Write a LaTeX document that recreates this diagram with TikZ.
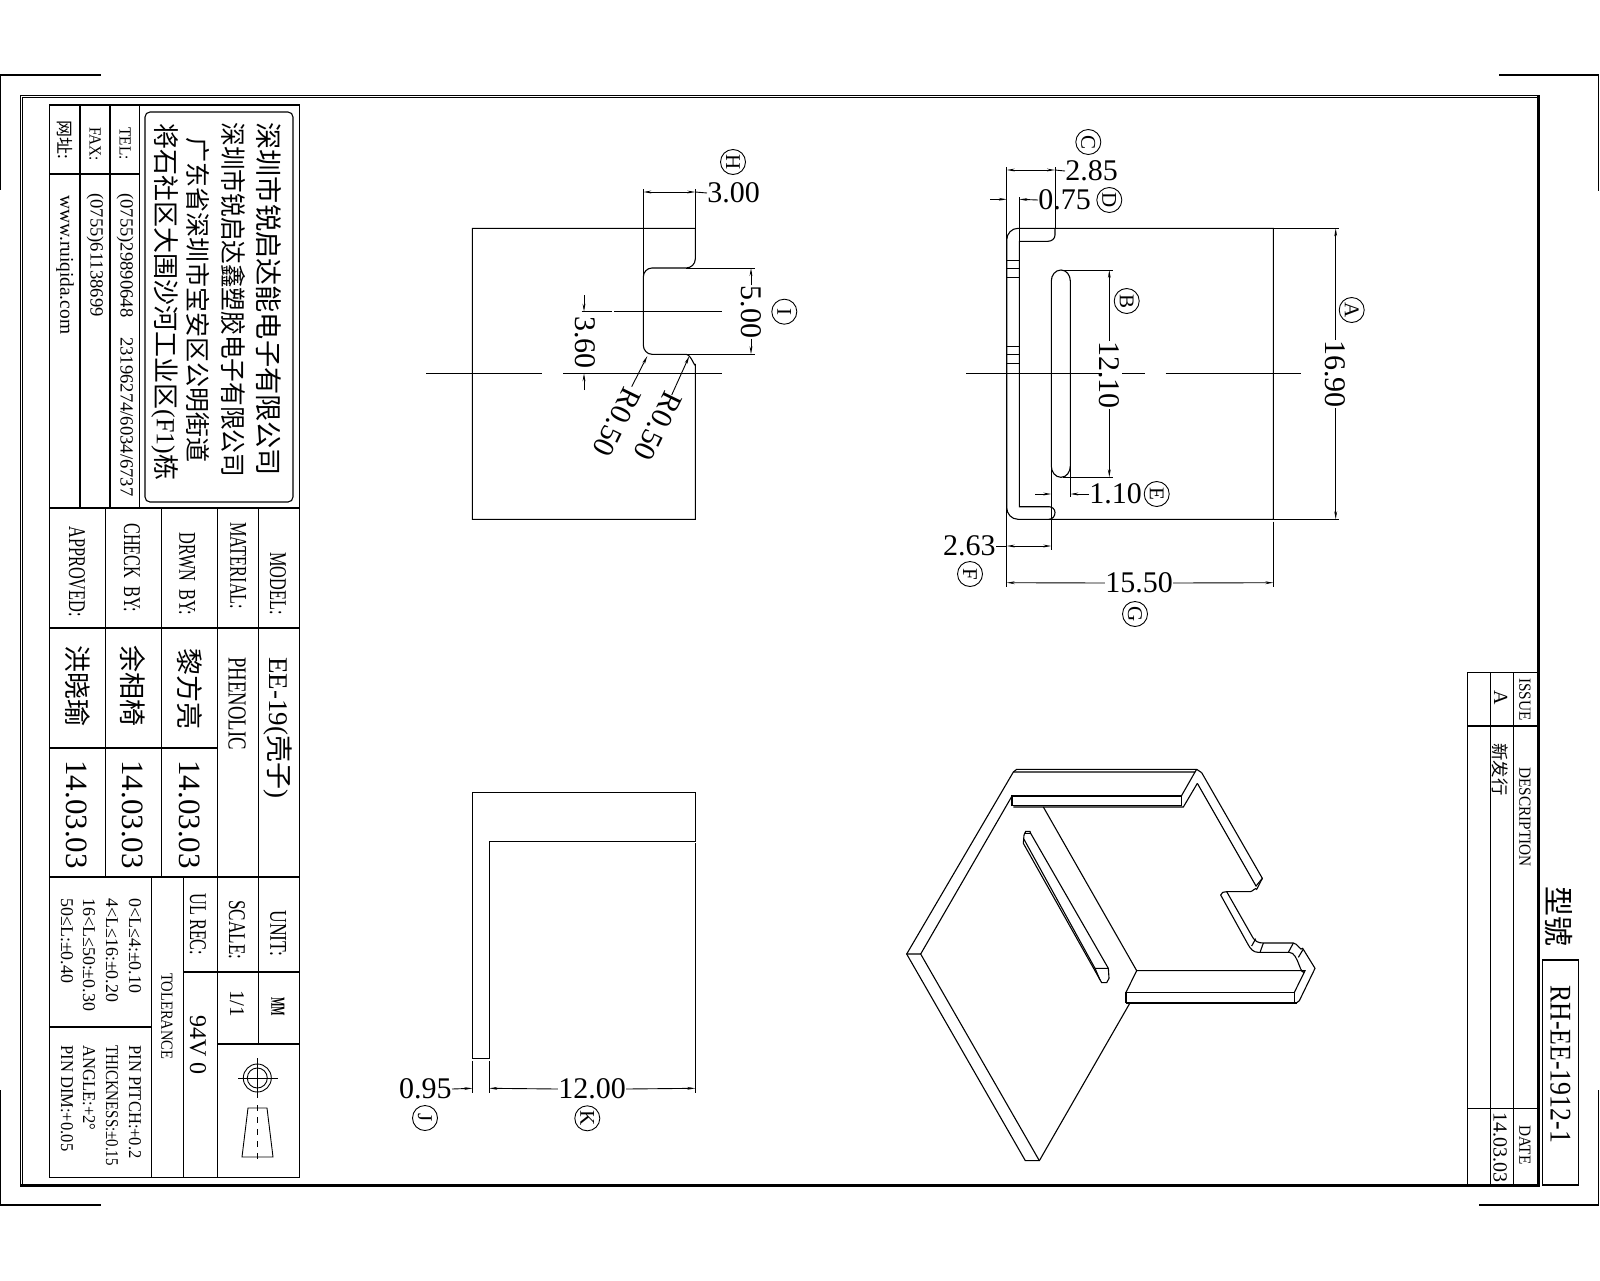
\documentclass[tikz,border=0pt]{standalone}
\usepackage{fontspec}
\setmainfont{Liberation Serif}
\newfontfamily\cjk{Noto Sans CJK SC}
\usetikzlibrary{arrows.meta}
\newcommand{\fs}[1]{\fontsize{#1}{#1}\selectfont}
\tikzset{
  part/.style={line width=.55pt},
  thinln/.style={line width=.45pt},
  tick/.tip={Stealth[length=4pt,width=1.4pt]},
  dimln/.style={line width=.45pt},
  dimtxt/.style={font=\fs{15}, inner sep=0pt},
  dimtxtv/.style={dimtxt, rotate=-90},
  balloon/.style={draw, circle, line width=.45pt, minimum size=12.5pt, inner sep=0pt, rotate=-90, font=\fs{10.5}},
  ttl/.style={rotate=-90, anchor=west, inner sep=0pt},
  lab/.style={ttl, xscale=.68, font=\fs{12}},
  tiny/.style={ttl, xscale=.9, font=\fs{8.5}},
  tol/.style={ttl, xscale=.92, font=\fs{9}},
  date/.style={ttl, font=\fs{15.5}},
  zh/.style={ttl, font=\cjk\fs{13.5}},
}
\begin{document}
\begin{tikzpicture}[x=.5pt,y=-.5pt]
  \useasboundingbox (0,0) rectangle (1600,1280);

  % Crop marks
  \draw[part] (0,190) -- (0,75) -- (101,75);
  \draw[part] (1499,75) -- (1598.5,75) -- (1598.5,191);
  \draw[part] (0,1090) -- (0,1205) -- (101,1205);
  \draw[part] (1479,1205) -- (1598.5,1205) -- (1598.5,1090);

  % Sheet frame
  \draw[thinln] (20,95) rectangle (1539.5,1186);
  \draw[thinln] (22.5,97) rectangle (1537,1184);
  \draw[line width=1.3pt] (1538.3,96) -- (1538.3,1185.5) -- (21,1185.5);

  % Title block, grid
  \draw[part] (49.3,105) rectangle (299.3,1177.3);
  \foreach \x in {80,110,139.3} \draw[part] (\x,105) -- (\x,508);
  \draw[part] (49.3,174) -- (139.3,174);
  \draw[part] (49.3,508) -- (299.3,508);
  \draw[part] (49.3,628) -- (299.3,628);
  \draw[part] (49.3,748) -- (217.3,748);
  \draw[part] (49.3,877) -- (299.3,877);
  \foreach \x in {105.3,161.3} \draw[part] (\x,508) -- (\x,877);
  \foreach \x in {217.3} \draw[part] (\x,508) -- (\x,1177.3);
  \draw[part] (258.7,508) -- (258.7,1044);
  \foreach \x in {151.3,183.3} \draw[part] (\x,877) -- (\x,1177.3);
  \draw[part] (183.3,972) -- (299.3,972);
  \draw[part] (217.3,1044) -- (299.3,1044);
  \draw[part] (49.3,1027) -- (151.3,1027);
  \draw[part, rounded corners=2.5pt] (145,112) rectangle (293,502);

  % Company address
  \node[zh, font=\cjk\fs{13.6}] (co1) at (269,122) {深圳市锐启达能电子有限公司};
  \node[zh, font=\cjk\fs{13}, xscale=.91] (co2) at (233,122) {深圳市锐启达鑫塑胶电子有限公司};
  \node[zh, font=\cjk\fs{12.5}] (co3) at (198,137) {广东省深圳市宝安区公明街道};
  \node[zh, font=\fs{13}] (co4) at (165,123) {{\cjk 将石社区大围沙河工业区}(F1){\cjk 栋}};
  \node[tiny] (tel) at (125,127) {TEL:};
  \node[ttl, font=\fs{9.3}] (telv) at (125,193) {(0755)29890648\hspace{10pt}23196274/6034/6737};
  \node[tiny] (fax) at (95,127) {FAX:};
  \node[ttl, font=\fs{9.3}] (faxv) at (95,193) {(0755)61138699};
  \node[ttl, font=\cjk\fs{8.5}] (web) at (65,120) {网址:};
  \node[ttl, font=\fs{9.7}] (webv) at (65,195) {www.ruiqida.com};

  % Title block, labels and values
  \node[lab] (model) at (278,552) {MODEL:};
  \node[lab] (material) at (238,522) {MATERIAL:};
  \node[lab] (drwn) at (187,532) {DRWN\ \ BY:};
  \node[lab] (chk) at (132,523) {CHECK\ \ BY:};
  \node[lab] (appr) at (77,526) {APPROVED:};
  \node[ttl, font=\fs{13.5}] (modelv) at (278,657) {EE-19({\cjk 壳子})};
  \node[ttl, xscale=.72, font=\fs{13}] (matv) at (237,657) {PHENOLIC};
  \node[zh] (drwnv) at (190,648) {黎方亮};
  \node[zh] (chkv) at (133,645) {余相椅};
  \node[zh] (apprv) at (78,645) {洪晓瑜};
  \node[date] (d1) at (190,760) {14.03.03};
  \node[date] (d2) at (133,760) {14.03.03};
  \node[date] (d3) at (77,760) {14.03.03};

  \node[lab, xscale=1.08] (unit) at (278,910) {UNIT:};
  \node[lab, xscale=1.05] (scale) at (237,900) {SCALE:};
  \node[lab] (ulrec) at (198,893) {UL\ REC:};
  \node[ttl, xscale=.5, font=\fs{10}\bfseries] (unitv) at (278,997) {MM};
  \node[ttl, font=\fs{10.5}] (scalev) at (237,990) {1/1};
  \node[ttl, font=\fs{12}] (ulv) at (198,1015) {94V\ 0};
  \node[tiny, xscale=.95] (tolt) at (167,973) {TOLERANCE};
  \node[tol, xscale=1.08] (t1) at (135,898) {0<L≤4:±0.10};
  \node[tol, xscale=1.08] (t2) at (112,898) {4<L≤16:±0.20};
  \node[tol, xscale=1.08] (t3) at (89,898) {16<L≤50:±0.30};
  \node[tol, xscale=1.08] (t4) at (67,898) {50≤L:±0.40};
  \node[tol] (p1) at (135,1045) {PIN PITCH:+0.2};
  \node[tol, xscale=.9] (p2) at (112,1045) {THICKNESS:±0.15};
  \node[tol] (p3) at (89,1045) {ANGLE:+2°};
  \node[tol] (p4) at (67,1045) {PIN DIM:+0.05};

  % Projection symbol
  \draw[thinln] (257.3,1078) circle (14) (257.3,1078) circle (10);
  \draw[thinln] (238,1078) -- (278,1078) (257.3,1058) -- (257.3,1098);
  \draw[thinln] (248,1108) -- (267,1108) -- (273,1157) -- (242,1157) -- cycle;
  \draw[thinln, dashed] (257.3,1105) -- (257.3,1162);

  % Revision table
  \draw[part] (1467.3,672.3) -- (1538,672.3);
  \draw[part] (1467.3,726) -- (1538,726);
  \draw[part] (1467.3,1108.3) -- (1538,1108.3);
  \foreach \x in {1467.3,1490.3,1513.3} \draw[part] (\x,672.3) -- (\x,1185);
  \node[tiny] (issue) at (1525,678) {ISSUE};
  \node[tiny] (descr) at (1525,767) {DESCRIPTION};
  \node[tiny] (datet) at (1525,1125) {DATE};
  \node[ttl, font=\fs{10}, anchor=center] (reva) at (1500.7,698) {A};
  \node[ttl, font=\cjk\fs{8.7}] (revd) at (1500,743) {新发行};
  \node[ttl, font=\fs{10}] (revdt) at (1500,1112) {14.03.03};

  % Model number
  \node[ttl, font=\cjk\fs{15}] (modelzh) at (1559,886) {型號};
  \draw[part] (1542.3,960) rectangle (1578.7,1185);
  \node[ttl, xscale=.86, font=\fs{15}] (modelno) at (1560.5,985) {RH-EE-1912-1};

  % Top left view
  \draw[part] (472.3,228.3) -- (695.3,228.3) -- (695.3,259) to[out=-90,in=0] (686,268)
    -- (652,268) to[out=180,in=90] (643.3,277) -- (643.3,345) to[out=-90,in=180] (652,354.3)
    -- (686,354.3) to[out=0,in=-90] (695.3,364) -- (695.3,519.3) -- (472.3,519.3) -- cycle;
  \draw[thinln] (643.3,189) -- (643.3,277);
  \draw[thinln] (695.3,189) -- (695.3,228.3);
  \draw[thinln] (686,268) -- (755,268);
  \draw[thinln] (686,354.3) -- (755,354.3);
  \draw[thinln] (581.7,311.7) -- (611.7,311.7) (614,311.7) -- (721.7,311.7);
  \draw[thinln] (426,373.3) -- (541.7,373.3) (563,373.3) -- (721.7,373.3);

  \node[dimtxt, anchor=west] (dimH) at (707,193) {3.00};
  \coordinate (h1) at (643.3,192);
  \coordinate (h2) at (695.3,192);
  \draw[dimln, {tick}-{tick}] (h1) -- (h2);
  \draw[dimln] (h2) -- (dimH.west);
  \node[balloon] (balH) at (733,162) {H};

  \node[dimtxtv] (dimI) at (751,312) {5.00};
  \coordinate (i1) at (751,268);
  \coordinate (i2) at (751,354.3);
  \draw[dimln, -{tick}] (dimI.west) -- (i1);
  \draw[dimln, -{tick}] (dimI.east) -- (i2);
  \node[balloon] (balI) at (784.3,311.7) {I};

  \node[dimtxtv] (dimM) at (585,342.5) {3.60};
  \coordinate (m1) at (584,295);
  \coordinate (m2) at (584,311.7);
  \coordinate (m3) at (584,390);
  \coordinate (m4) at (584,373.3);
  \draw[dimln, -{tick}] (m1) -- (m2);
  \draw[dimln, -{tick}] (m3) -- (m4);

  \node[dimtxt, rotate=-116] (r1) at (617,422) {R0.50};
  \node[dimtxt, rotate=-116] (r2) at (658,426) {R0.50};
  \coordinate (r1t) at (647.3,356);
  \coordinate (r2t) at (689.3,356);
  \draw[dimln, -{tick}] (631.7,386.7) -- (r1t);
  \draw[dimln, -{tick}] (671.7,395) -- (r2t);

  % Top right view
  \draw[part] (1273.3,228.3) -- (1018,228.3) to[out=180,in=90] (1006.7,240) -- (1006.7,507.5)
    to[out=-90,in=180] (1018,519.3) -- (1273.3,519.3) -- cycle;
  \draw[part] (1055,228.3) -- (1055,235) to[out=-90,in=0] (1048,241.3) -- (1019.3,241.3)
    -- (1019.3,506.7) -- (1049,506.7) to[out=0,in=90] (1055,512.5) to[out=-90,in=0] (1049,519.3);
  \draw[part] (1051.3,281) to[out=90,in=180] (1061,270) to[out=0,in=90] (1070.3,281) -- (1070.3,466)
    to[out=-90,in=0] (1061,477.3) to[out=180,in=-90] (1051.3,466) -- cycle;
  \foreach \y in {260.7,268.7,277.3,346,354.7,363.3} \draw[thinln] (1006.7,\y) -- (1019.3,\y);
  \draw[thinln] (1006.7,167) -- (1006.7,240) (1006.7,507) -- (1006.7,587);
  \draw[thinln] (1055,167) -- (1055,228.3);
  \draw[thinln] (1019.3,197) -- (1019.3,241.3);
  \draw[thinln] (1070.3,466) -- (1070.3,497);
  \draw[thinln] (1051.3,466) -- (1051.3,550);
  \draw[thinln] (1273.3,521.7) -- (1273.3,587);
  \draw[thinln] (1273.3,228.3) -- (1339,228.3) (1273.3,519.3) -- (1339,519.3);
  \draw[thinln] (1063,270) -- (1112.7,270) (1063,477.3) -- (1112.7,477.3);
  \draw[thinln] (966,373.3) -- (1101.7,373.3) (1122,373.3) -- (1145,373.3) (1165.7,373.3) -- (1301,373.3);

  \node[dimtxt, anchor=west] (dimC) at (1065,171) {2.85};
  \coordinate (c1) at (1006.7,170);
  \coordinate (c2) at (1055,170);
  \draw[dimln, {tick}-{tick}] (c1) -- (c2);
  \draw[dimln] (c2) -- (dimC.west);
  \node[balloon] (balC) at (1088.3,142) {C};

  \node[dimtxt, anchor=west] (dimD) at (1038,200) {0.75};
  \coordinate (d1a) at (990,199.3);
  \coordinate (d1b) at (1006.7,199.3);
  \coordinate (d2a) at (1019.3,199.3);
  \draw[dimln, -{tick}] (d1a) -- (d1b);
  \draw[dimln, -{tick}] (dimD.west) -- (d2a);
  \node[balloon] (balD) at (1109.3,200) {D};

  \node[dimtxtv] (dimB) at (1109.3,375) {12.10};
  \coordinate (b1) at (1109.3,270);
  \coordinate (b2) at (1109.3,477.3);
  \draw[dimln, -{tick}] (dimB.west) -- (b1);
  \draw[dimln, -{tick}] (dimB.east) -- (b2);
  \node[balloon] (balB) at (1126.7,301) {B};

  \node[dimtxtv] (dimA) at (1335.7,374) {16.90};
  \coordinate (a1) at (1335.7,228.3);
  \coordinate (a2) at (1335.7,519.3);
  \draw[dimln, -{tick}] (dimA.west) -- (a1);
  \draw[dimln, -{tick}] (dimA.east) -- (a2);
  \node[balloon] (balA) at (1351.7,310) {A};

  \node[dimtxt, anchor=west] (dimE) at (1089,494) {1.10};
  \coordinate (e1) at (1035,494);
  \coordinate (e2) at (1051.3,494);
  \coordinate (e3) at (1070.3,494);
  \draw[dimln, -{tick}] (e1) -- (e2);
  \draw[dimln, -{tick}] (dimE.west) -- (e3);
  \node[balloon] (balE) at (1156.7,494) {E};

  \node[dimtxt, anchor=east] (dimF) at (996,546) {2.63};
  \coordinate (f1) at (1006.7,546);
  \coordinate (f2) at (1051.3,546);
  \draw[dimln, {tick}-{tick}] (f1) -- (f2);
  \draw[dimln] (dimF.east) -- (f1);
  \node[balloon] (balF) at (970,574) {F};

  \node[dimtxt, anchor=center] (dimG) at (1139,583) {15.50};
  \coordinate (g1) at (1006.7,582.7);
  \coordinate (g2) at (1273.3,582.7);
  \draw[dimln, -{tick}] (dimG.west) -- (g1);
  \draw[dimln, -{tick}] (dimG.east) -- (g2);
  \node[balloon] (balG) at (1135,614) {G};

  % Bottom left view
  \draw[part] (472.3,1058.3) -- (472.3,792.3) -- (695.3,792.3) -- (695.3,841.3) -- (489.3,841.3)
    -- (489.3,1058.3) -- cycle;
  \draw[thinln] (695.3,843) -- (695.3,1092.7);
  \draw[thinln] (472.3,1060.7) -- (472.3,1092.7);
  \draw[thinln] (489.3,1060.7) -- (489.3,1092.7);

  \node[dimtxt, anchor=east] (dimJ) at (452,1089) {0.95};
  \coordinate (j1) at (472.3,1088.3);
  \draw[dimln, -{tick}] (dimJ.east) -- (j1);
  \node[balloon] (balJ) at (425,1118) {J};

  \node[dimtxt, anchor=center] (dimK) at (592,1089) {12.00};
  \coordinate (k1) at (489.3,1088.3);
  \coordinate (k2) at (695.3,1088.3);
  \draw[dimln, -{tick}] (dimK.west) -- (k1);
  \draw[dimln, -{tick}] (dimK.east) -- (k2);
  \node[balloon] (balK) at (587.3,1118.3) {K};

  % Isometric view
  \begin{scope}[shift={(880,750)},x=.16667pt,y=-.16667pt]
    % plate and bottom edge
    \draw[part] (400,66) -- (80,612) -- (436,1232) -- (478,1232) -- (748,762);
    \draw[part] (80,612) -- (122,612) -- (478,1232);
    \draw[part] (122,612) -- (396,138);
    \draw[part] (490,171) -- (770,662) -- (738,727);
    % top flange
    \draw[part] (400,66) -- (410,58) -- (950,58) -- (965,68);
    \draw[part] (400,66) -- (945,66) -- (904,138);
    \draw[part] (396,138) rectangle (904,166);
    \draw[part] (400,171) -- (910,171) -- (952,100);
    \draw[part] (945,66) -- (950,58);
    % back wall and notch
    \draw[part] (965,68) -- (1147,385) -- (1130,418) to[out=120,in=0] (1110,425) -- (1040,425)
      to[out=180,in=90] (1022,435) -- (1105,585) to[out=-60,in=180] (1135,607) -- (1228,607)
      to[out=0,in=-120] (1275,662);
    \draw[part] (952,100) -- (1128,408) -- (1147,385);
    \draw[part] (1040,425) -- (1118,562) to[out=-60,in=180] (1150,579) -- (1240,579)
      to[out=0,in=-120] (1268,595) -- (1305,655) -- (1258,752) -- (1250,758);
    \draw[part] (1115,588) -- (1127,566) (1140,607) -- (1150,579);
    \draw[part] (1225,607) -- (1240,579) (1255,622) -- (1270,597);
    % lower flange
    \draw[part] (770,662) -- (1275,662) -- (1243,727);
    \draw[part] (738,727) rectangle (1243,757);
    \draw[line width=.9pt] (738,759) -- (1250,759);
    % slot
    \draw[part] (452,250) -- (685,655) -- (687,685) -- (680,698) -- (665,698) -- (430,280)
      -- (432,255) -- (437,244) -- (450,244) -- (452,250) -- (432,250);
    \draw[part] (432,268) -- (645,655) -- (685,655);
    \draw[part] (645,655) -- (660,690);
  \end{scope}
\end{tikzpicture}
\end{document}
